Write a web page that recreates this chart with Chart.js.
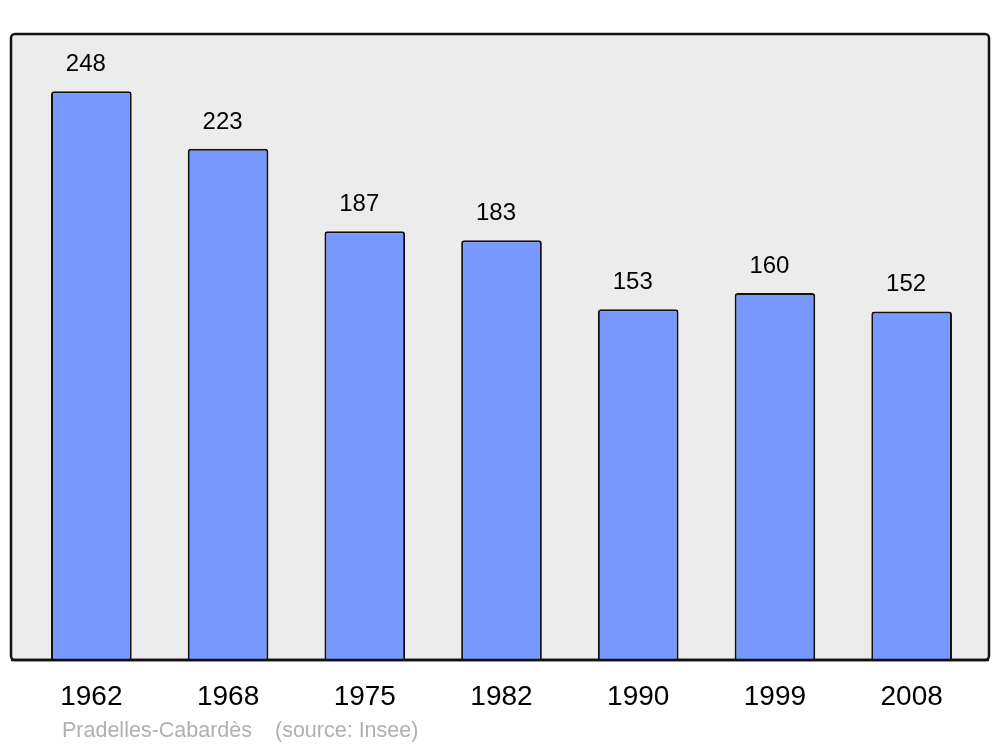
<!DOCTYPE html>
<html>
<head>
<meta charset="utf-8">
<script src="https://cdn.jsdelivr.net/npm/chart.js@4"></script>
<style>
  html, body { margin: 0; padding: 0; background: #fff; }
  #wrap { width: 1000px; height: 747px; }
</style>
</head>
<body>
<div id="wrap"><canvas id="pop"></canvas></div>
<script>
const years = ['1962', '1968', '1975', '1982', '1990', '1999', '2008']
const population = [248, 223, 187, 183, 153, 160, 152]
const yMax = 273
const place = 'Pradelles-Cabardès'
const source = '(source: Insee)'

const font = '"Liberation Sans", Arial, sans-serif'

// grey panel with rounded black frame behind the bars
const framePlugin = {
    id: 'frame',
    beforeDatasetsDraw(chart) {
        const c = chart.ctx
        const area = chart.chartArea
        const x0 = 11, x1 = 989, y0 = area.top, y1 = area.bottom
        c.save()
        c.beginPath()
        c.roundRect(x0, y0, x1 - x0, y1 - y0, 4)
        c.fillStyle = '#ececec'
        c.fill()
        c.lineWidth = 2.5
        c.strokeStyle = '#111'
        c.stroke()
        c.restore()
    },
    afterDatasetsDraw(chart) {
        const c = chart.ctx
        const area = chart.chartArea
        c.save()
        // bottom line of frame drawn again on top of the bars
        c.beginPath()
        c.moveTo(11, area.bottom)
        c.lineTo(989, area.bottom)
        c.lineWidth = 2.5
        c.strokeStyle = '#111'
        c.stroke()

        // values above bars
        c.font = '24px ' + font
        c.fillStyle = '#000'
        c.textAlign = 'center'
        c.textBaseline = 'alphabetic'
        chart.getDatasetMeta(0).data.forEach((bar, i) => {
            c.fillText(population[i], bar.x - 5.5, bar.y - 20)
        })

        // footer
        c.font = '21.5px ' + font
        c.fillStyle = '#b0b0b0'
        c.textAlign = 'left'
        c.fillText(place, 62, 737)
        c.fillText(source, 275, 737)
        c.restore()
    }
}

new Chart(document.getElementById('pop'), {
    type: 'bar',
    data: {
        labels: years,
        datasets: [{
            data: population,
            backgroundColor: '#7799ff',
            borderColor: '#111',
            borderWidth: 2,
            borderRadius: 3,
            barPercentage: 0.59,
            categoryPercentage: 1,
        }]
    },
    options: {
        responsive: true,
        maintainAspectRatio: false,
        animation: false,
        layout: {
            padding: { left: 23, right: 20, top: 34, bottom: 0 }
        },
        scales: {
            x: {
                grid: { display: false, drawTicks: false },
                border: { display: false },
                ticks: {
                    padding: 20,
                    color: '#000',
                    font: { size: 28, family: font },
                    maxRotation: 0,
                },
                afterFit(scale) {
                    scale.height = 87
                }
            },
            y: {
                display: false,
                min: 0,
                max: yMax,
            }
        },
        plugins: {
            legend: { display: false },
            tooltip: { enabled: false }
        }
    },
    plugins: [framePlugin]
})
</script>
</body>
</html>
